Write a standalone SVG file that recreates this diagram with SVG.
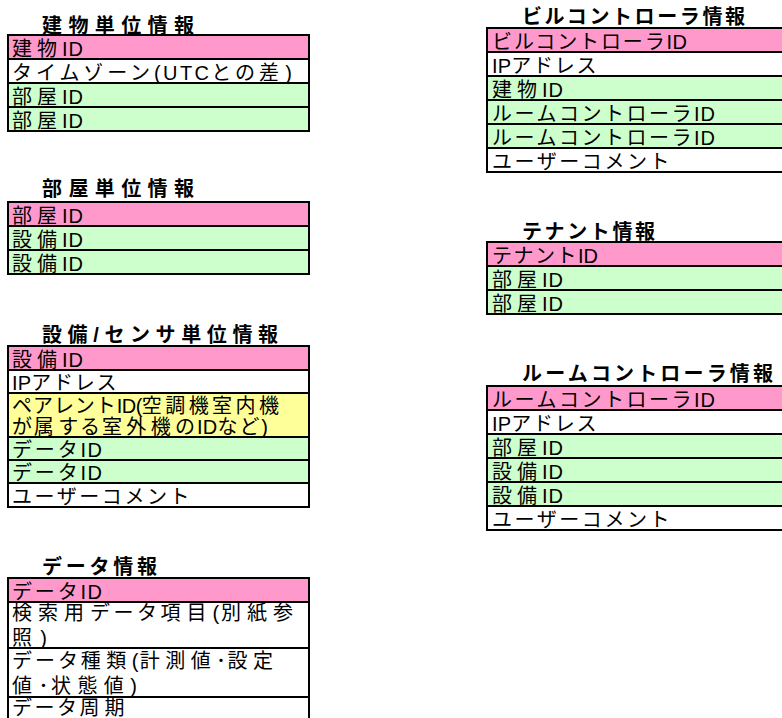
<svg xmlns="http://www.w3.org/2000/svg" width="782" height="718" viewBox="0 0 782 718">
<style>
.bg{fill:#fff}
.pk{fill:#FF99CC;stroke:#000;stroke-width:2}
.gr{fill:#CCFFCC;stroke:#000;stroke-width:2}
.wh{fill:#FFFFFF;stroke:#000;stroke-width:2}
.ye{fill:#FFFF99;stroke:#000;stroke-width:2}
text{font-family:"Liberation Sans","Noto Sans CJK JP",sans-serif;fill:#000}
.t{font-size:20px;letter-spacing:2.5px}
.k{letter-spacing:5px}
.l{letter-spacing:1px}
.h{font-size:20px;font-weight:bold}
</style>
<rect class="bg" x="0" y="0" width="782" height="718"/>
<g id="connectors"/>

<g id="building">
<text class="h" x="42" y="33" textLength="152" lengthAdjust="spacing">建物単位情報</text>
<rect class="pk" x="8" y="35" width="301" height="24"/>
<rect class="wh" x="8" y="59" width="301" height="24"/>
<rect class="gr" x="8" y="83" width="301" height="24"/>
<rect class="gr" x="8" y="107" width="301" height="24"/>
<text class="t" x="12" y="56" textLength="72" lengthAdjust="spacing"><tspan class="k">建物</tspan><tspan class="l">ID</tspan></text>
<text class="t" x="12" y="80" textLength="281" lengthAdjust="spacing">タイムゾーン<tspan class="l">(UTC</tspan>との<tspan class="k">差</tspan><tspan class="l">)</tspan></text>
<text class="t" x="12" y="104" textLength="72" lengthAdjust="spacing"><tspan class="k">部屋</tspan><tspan class="l">ID</tspan></text>
<text class="t" x="12" y="128" textLength="72" lengthAdjust="spacing"><tspan class="k">部屋</tspan><tspan class="l">ID</tspan></text>
</g>

<g id="room">
<text class="h" x="42" y="196" textLength="152" lengthAdjust="spacing">部屋単位情報</text>
<rect class="pk" x="8" y="202" width="301" height="24"/>
<rect class="gr" x="8" y="226" width="301" height="24"/>
<rect class="gr" x="8" y="250" width="301" height="24"/>
<text class="t" x="12" y="223" textLength="72" lengthAdjust="spacing"><tspan class="k">部屋</tspan><tspan class="l">ID</tspan></text>
<text class="t" x="12" y="247" textLength="72" lengthAdjust="spacing"><tspan class="k">設備</tspan><tspan class="l">ID</tspan></text>
<text class="t" x="12" y="271" textLength="72" lengthAdjust="spacing"><tspan class="k">設備</tspan><tspan class="l">ID</tspan></text>
</g>

<g id="equipment">
<text class="h" x="42" y="342" textLength="236" lengthAdjust="spacing">設備/センサ単位情報</text>
<rect class="pk" x="8" y="346" width="301" height="24"/>
<rect class="wh" x="8" y="370" width="301" height="23"/>
<rect class="ye" x="8" y="393" width="301" height="44"/>
<rect class="gr" x="8" y="437" width="301" height="23"/>
<rect class="gr" x="8" y="460" width="301" height="23"/>
<rect class="wh" x="8" y="483" width="301" height="24"/>
<text class="t" x="12" y="367" textLength="72" lengthAdjust="spacing"><tspan class="k">設備</tspan><tspan class="l">ID</tspan></text>
<text class="t" x="12" y="390" textLength="107" lengthAdjust="spacing"><tspan class="l">IP</tspan>アドレス</text>
<text class="t" x="12" y="413" textLength="272" lengthAdjust="spacing">ペアレント<tspan class="l">ID(</tspan><tspan class="k">空調機室内機</tspan></text>
<text class="t" x="12" y="434" textLength="257" lengthAdjust="spacing">が<tspan class="k">属</tspan>する<tspan class="k">室外機</tspan>の<tspan class="l">ID</tspan>など<tspan class="l">)</tspan></text>
<text class="t" x="12" y="457" textLength="91" lengthAdjust="spacing">データ<tspan class="l">ID</tspan></text>
<text class="t" x="12" y="480" textLength="91" lengthAdjust="spacing">データ<tspan class="l">ID</tspan></text>
<text class="t" x="12" y="504" textLength="180" lengthAdjust="spacing">ユーザーコメント</text>
</g>

<g id="data">
<text class="h" x="42" y="574" textLength="115" lengthAdjust="spacing">データ情報</text>
<rect class="pk" x="8" y="578" width="301" height="24"/>
<rect class="wh" x="8" y="602" width="301" height="46"/>
<rect class="wh" x="8" y="648" width="301" height="49"/>
<rect class="wh" x="8" y="697" width="301" height="40"/>
<text class="t" x="12" y="599" textLength="91" lengthAdjust="spacing">データ<tspan class="l">ID</tspan></text>
<text class="t" x="12" y="620" textLength="286" lengthAdjust="spacing"><tspan class="k">検索用</tspan>データ<tspan class="k">項目</tspan><tspan class="l">(</tspan><tspan class="k">別紙参</tspan></text>
<text class="t" x="12" y="645" textLength="36" lengthAdjust="spacing"><tspan class="k">照</tspan><tspan class="l">)</tspan></text>
<text class="t" x="12" y="668" textLength="266" lengthAdjust="spacing">データ<tspan class="k">種類</tspan><tspan class="l">(</tspan><tspan class="k">計測値</tspan><tspan class="l">･</tspan><tspan class="k">設定</tspan></text>
<text class="t" x="12" y="693" textLength="126" lengthAdjust="spacing"><tspan class="k">値</tspan><tspan class="l">･</tspan><tspan class="k">状態値</tspan><tspan class="l">)</tspan></text>
<text class="t" x="12" y="715">データ<tspan class="k">周期</tspan></text>
</g>

<g id="building-controller">
<text class="h" x="522" y="24" textLength="223" lengthAdjust="spacing">ビルコントローラ情報</text>
<rect class="pk" x="487" y="28" width="320" height="24"/>
<rect class="wh" x="487" y="52" width="320" height="24"/>
<rect class="gr" x="487" y="76" width="320" height="24"/>
<rect class="gr" x="487" y="100" width="320" height="24"/>
<rect class="gr" x="487" y="124" width="320" height="24"/>
<rect class="wh" x="487" y="148" width="320" height="24"/>
<text class="t" x="492" y="49" textLength="196" lengthAdjust="spacing">ビルコントローラ<tspan class="l">ID</tspan></text>
<text class="t" x="492" y="73" textLength="107" lengthAdjust="spacing"><tspan class="l">IP</tspan>アドレス</text>
<text class="t" x="492" y="97" textLength="72" lengthAdjust="spacing"><tspan class="k">建物</tspan><tspan class="l">ID</tspan></text>
<text class="t" x="492" y="121" textLength="224" lengthAdjust="spacing">ルームコントローラ<tspan class="l">ID</tspan></text>
<text class="t" x="492" y="145" textLength="224" lengthAdjust="spacing">ルームコントローラ<tspan class="l">ID</tspan></text>
<text class="t" x="492" y="169" textLength="180" lengthAdjust="spacing">ユーザーコメント</text>
</g>

<g id="tenant">
<text class="h" x="522" y="239" textLength="133" lengthAdjust="spacing">テナント情報</text>
<rect class="pk" x="487" y="242" width="320" height="24"/>
<rect class="gr" x="487" y="266" width="320" height="24"/>
<rect class="gr" x="487" y="290" width="320" height="24"/>
<text class="t" x="492" y="263" textLength="107" lengthAdjust="spacing">テナント<tspan class="l">ID</tspan></text>
<text class="t" x="492" y="287" textLength="72" lengthAdjust="spacing"><tspan class="k">部屋</tspan><tspan class="l">ID</tspan></text>
<text class="t" x="492" y="311" textLength="72" lengthAdjust="spacing"><tspan class="k">部屋</tspan><tspan class="l">ID</tspan></text>
</g>

<g id="room-controller">
<text class="h" x="522" y="381" textLength="251" lengthAdjust="spacing">ルームコントローラ情報</text>
<rect class="pk" x="487" y="386" width="320" height="24"/>
<rect class="wh" x="487" y="410" width="320" height="24"/>
<rect class="gr" x="487" y="434" width="320" height="24"/>
<rect class="gr" x="487" y="458" width="320" height="24"/>
<rect class="gr" x="487" y="482" width="320" height="24"/>
<rect class="wh" x="487" y="506" width="320" height="24"/>
<text class="t" x="492" y="407" textLength="224" lengthAdjust="spacing">ルームコントローラ<tspan class="l">ID</tspan></text>
<text class="t" x="492" y="431" textLength="107" lengthAdjust="spacing"><tspan class="l">IP</tspan>アドレス</text>
<text class="t" x="492" y="455" textLength="72" lengthAdjust="spacing"><tspan class="k">部屋</tspan><tspan class="l">ID</tspan></text>
<text class="t" x="492" y="479" textLength="72" lengthAdjust="spacing"><tspan class="k">設備</tspan><tspan class="l">ID</tspan></text>
<text class="t" x="492" y="503" textLength="72" lengthAdjust="spacing"><tspan class="k">設備</tspan><tspan class="l">ID</tspan></text>
<text class="t" x="492" y="527" textLength="180" lengthAdjust="spacing">ユーザーコメント</text>
</g>
</svg>
